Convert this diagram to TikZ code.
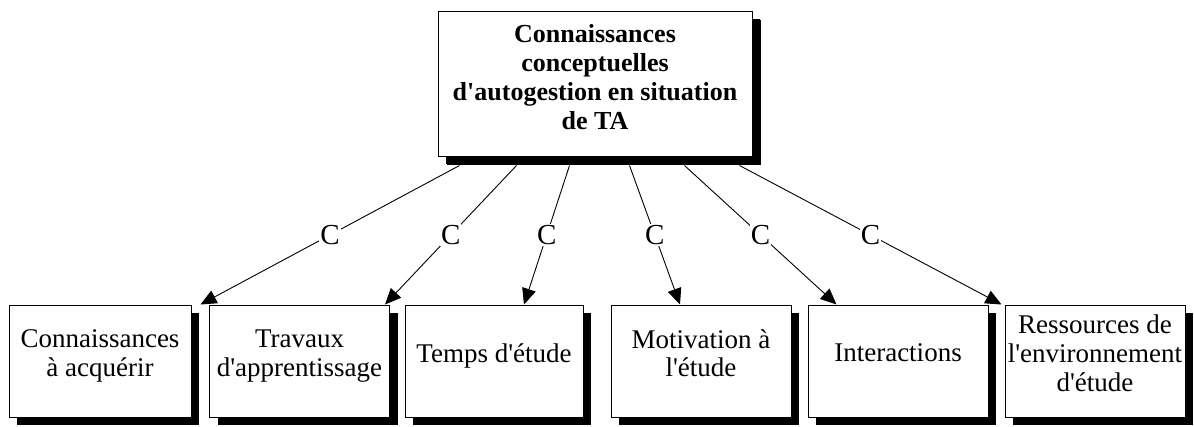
\documentclass[tikz,border=0pt]{standalone}
\usepackage{fontspec}
\setmainfont{LiberationSerif}[Extension=.ttf,UprightFont=*-Regular,BoldFont=*-Bold]
\usetikzlibrary{arrows.meta,shadows}
\tikzset{box/.style={draw,line width=1pt,fill=white,align=center,minimum width=180pt,minimum height=112pt,inner sep=0.5pt,
    text depth=16pt,font=\fontsize{27}{28.7}\selectfont,
    drop shadow={shadow xshift=8pt,shadow yshift=-8pt,fill=black,opacity=1}},
  headbox/.style={box,minimum width=314pt,minimum height=145pt,text depth=13pt,
    font=\bfseries\fontsize{26}{29.3}\selectfont,
    drop shadow={shadow xshift=9pt,shadow yshift=-9pt,fill=black,opacity=1}},
  arr/.style={-{Triangle[length=16pt,width=14pt]},line width=0.9pt},
  lab/.style={fill=white,inner sep=1pt,font=\fontsize{29}{30}\selectfont}}

\begin{document}
\begin{tikzpicture}[x=1pt,y=-1pt]
\useasboundingbox (0,0) rectangle (1194,426);
% concept at the top
\node[headbox] (top) at (595,83.5) {Connaissances\\ conceptuelles\\ d\textquotesingle autogestion en situation\\ de TA};
% the six sub-concepts
\node[box,minimum width=182pt] (a) at (100,361) {Connaissances\\ à acquérir};
\node[box] (b) at (299.5,361) {Travaux\\ d\textquotesingle apprentissage};
\node[box,minimum width=178pt] (c) at (494,361) {Temps d\textquotesingle étude};
\node[box] (d) at (701,361) {Motivation à\\ l\textquotesingle étude};
\node[box] (e) at (898,361) {Interactions};
\node[box] (f) at (1095,361) {Ressources de\\ l\textquotesingle environnement\\ d\textquotesingle étude};
% links, leaving from under the shadow
\draw[arr] ([shift={(22,9)}]top.south west) -- ([xshift=9pt]a.north east) node[lab,midway]{C};
\draw[arr] ([shift={(79,9)}]top.south west) -- ([xshift=-5pt]b.north east) node[lab,midway]{C};
\draw[arr] ([shift={(132,9)}]top.south west) -- ([xshift=30pt]c.north) node[lab,midway]{C};
\draw[arr] ([shift={(192,9)}]top.south west) -- ([xshift=-21pt]d.north) node[lab,midway]{C};
\draw[arr] ([shift={(247,9)}]top.south west) -- ([xshift=29pt]e.north west) node[lab,midway]{C};
\draw[arr] ([shift={(302,9)}]top.south west) -- ([xshift=-3pt]f.north west) node[lab,midway]{C};
\end{tikzpicture}
\end{document}
